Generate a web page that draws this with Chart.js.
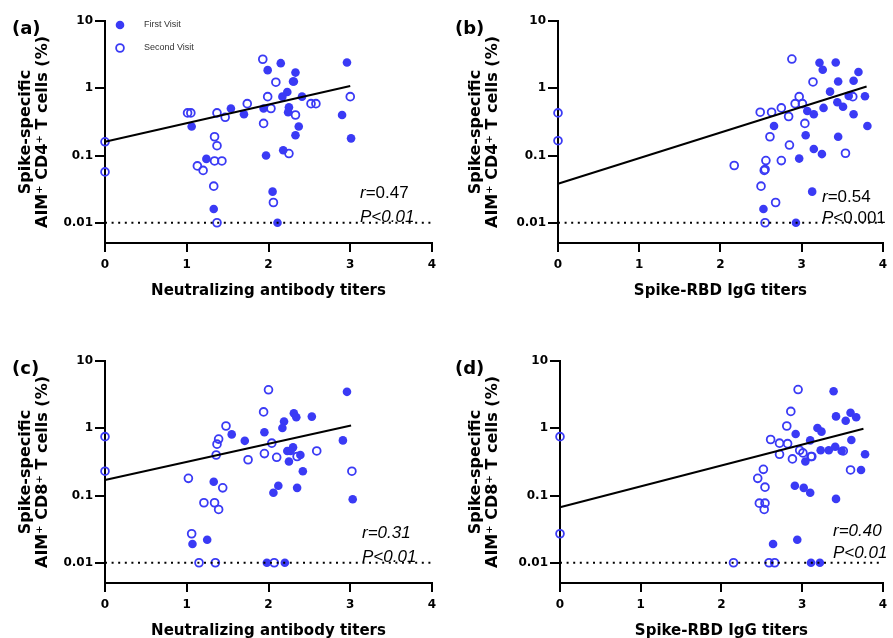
<!DOCTYPE html>
<html><head><meta charset="utf-8">
<script src="https://cdn.jsdelivr.net/npm/chart.js@4.4.1/dist/chart.umd.min.js"></script>
<style>
html,body{margin:0;padding:0;background:#fff;overflow:hidden;width:893px;height:638px;position:relative;}
canvas{position:absolute;}
</style></head><body>
<canvas id="cA" width="450" height="313" style="left:0;top:0"></canvas>
<canvas id="cB" width="443" height="313" style="left:450px;top:0"></canvas>
<canvas id="cC" width="450" height="313" style="left:0;top:340px"></canvas>
<canvas id="cD" width="443" height="313" style="left:450px;top:340px"></canvas>
<script>
// ---- data ----
const xTicks = [0, 1, 2, 3, 4];
const yTicks = [0.01, 0.1, 1, 10];
const detectionLimit = 0.01;
const seriesNames = ['First Visit', 'Second Visit'];

// (a) neutralizing titers vs CD4
const aFirstX  = [2.15,1.99,2.33,2.30,2.31,2.96,2.23,2.17,2.41,1.54,1.70,1.94,2.25,2.24,1.06,2.90,2.37,2.33,3.01,2.18,1.97,1.24,2.05,1.33,2.11];
const aFirstY  = [2.36,1.86,1.71,1.26,1.26,2.42,0.88,0.75,0.75,0.50,0.41,0.50,0.52,0.44,0.27,0.40,0.27,0.20,0.18,0.12,0.10,0.089,0.029,0.016,0.01];
const aSecondX = [0,0,1.01,1.05,1.37,1.47,1.74,1.93,2.09,1.99,2.03,1.94,2.33,2.25,2.52,2.58,3.00,1.34,1.37,1.34,1.43,1.13,1.20,1.33,2.06,1.37];
const aSecondY = [0.16,0.057,0.43,0.43,0.43,0.37,0.59,2.7,1.23,0.75,0.50,0.30,0.40,0.107,0.59,0.59,0.75,0.19,0.14,0.083,0.083,0.070,0.060,0.035,0.020,0.01];
const aFitX = [0, 3.0];
const aFitY = [0.16, 1.08];

// (b) RBD IgG vs CD4
const bFirstX  = [3.22,3.42,3.26,3.70,3.45,3.64,3.35,3.58,3.78,3.44,3.51,3.27,3.07,3.15,3.64,2.66,3.81,3.05,3.45,3.15,3.25,2.97,3.13,2.53,2.93];
const bFirstY  = [2.4,2.42,1.88,1.74,1.26,1.29,0.89,0.77,0.76,0.62,0.53,0.51,0.46,0.41,0.41,0.275,0.275,0.20,0.19,0.125,0.105,0.090,0.029,0.016,0.01];
const bSecondX = [0,0,2.88,3.14,2.97,2.92,3.01,2.49,2.63,2.75,2.84,3.04,2.61,2.85,3.54,3.63,2.17,2.56,2.55,2.54,2.75,2.50,2.68,2.55];
const bSecondY = [0.43,0.166,2.72,1.24,0.75,0.59,0.59,0.44,0.44,0.51,0.38,0.30,0.19,0.143,0.108,0.75,0.071,0.084,0.062,0.060,0.084,0.035,0.020,0.01];
const bFitX = [0, 3.80];
const bFitY = [0.038, 1.06];

// (c) neutralizing titers vs CD8
const cFirstX  = [2.96,2.31,2.34,2.53,2.19,2.17,1.95,1.55,1.71,2.91,2.30,2.23,2.27,2.25,2.39,2.42,1.33,2.12,2.06,2.35,3.03,1.25,1.07,1.98,2.20];
const cFirstY  = [3.48,1.67,1.46,1.49,1.26,1.01,0.87,0.81,0.65,0.66,0.52,0.46,0.46,0.32,0.40,0.23,0.16,0.14,0.11,0.13,0.088,0.022,0.019,0.01,0.01];
const cSecondX = [0,0,2.00,1.94,1.48,1.39,1.37,1.36,1.75,2.04,1.95,2.10,2.35,2.59,3.02,1.02,1.44,1.21,1.34,1.39,1.06,1.15,1.35,2.07];
const cSecondY = [0.75,0.23,3.73,1.75,1.08,0.69,0.58,0.40,0.34,0.60,0.42,0.37,0.38,0.46,0.23,0.18,0.13,0.078,0.078,0.062,0.027,0.01,0.01,0.01];
const cFitX = [0, 3.01];
const cFitY = [0.17, 1.10];

// (d) RBD IgG vs CD8
const dFirstX  = [3.39,3.42,3.60,3.67,3.54,3.19,3.24,2.92,3.10,3.61,3.23,3.33,3.41,3.49,3.04,3.78,3.73,2.91,3.02,3.10,3.42,2.94,2.64,3.11,3.22];
const dFirstY  = [3.55,1.50,1.70,1.46,1.29,1.01,0.89,0.82,0.66,0.67,0.47,0.47,0.53,0.46,0.32,0.41,0.24,0.14,0.13,0.11,0.089,0.022,0.019,0.01,0.01];
const dSecondX = [0,0,2.95,2.86,2.81,2.61,2.72,2.82,2.72,2.88,2.97,3.01,3.11,3.12,3.51,3.60,2.52,2.45,2.54,2.47,2.54,2.53,2.15,2.59,2.66];
const dSecondY = [0.75,0.027,3.76,1.78,1.08,0.68,0.60,0.59,0.41,0.35,0.47,0.43,0.38,0.38,0.46,0.24,0.245,0.18,0.133,0.077,0.077,0.062,0.01,0.01,0.01];
const dFitX = [0, 3.76];
const dFitY = [0.067, 0.98];

const panelLabels = ['(a)', '(b)', '(c)', '(d)'];
const xTitles = ['Neutralizing antibody titers', 'Spike-RBD IgG titers', 'Neutralizing antibody titers', 'Spike-RBD IgG titers'];
const yTitles = [
  ['Spike-specific', 'AIM\u207A CD4\u207A T cells (%)'],
  ['Spike-specific', 'AIM\u207A CD4\u207A T cells (%)'],
  ['Spike-specific', 'AIM\u207A CD8\u207A T cells (%)'],
  ['Spike-specific', 'AIM\u207A CD8\u207A T cells (%)']
];
const rTexts = ['=0.47', '=0.54', '=0.31', '=0.40'];
const pTexts = ['<0.01', '<0.001', '<0.01', '<0.01'];

// ---- styling ----
const BLUE = 'rgb(58,58,245)';
Chart.defaults.font.family = "'DejaVu Sans', sans-serif";
Chart.defaults.color = '#000';

const pts = (xs, ys) => xs.map((x, i) => ({x: x, y: ys[i]}));

const decor = {
  id: 'decor',
  afterDraw(chart, args, o) {
    const ctx = chart.ctx, ca = chart.chartArea;
    ctx.save();
    ctx.fillStyle = '#000';
    ctx.textBaseline = 'middle';
    ctx.textAlign = 'left';
    ctx.font = "bold 18px 'DejaVu Sans'";
    ctx.fillText(o.label, o.labelX, 29);
    if (o.legend) {
      ctx.font = "9px 'Liberation Sans'";
      ctx.fillStyle = '#333';
      ctx.fillText(seriesNames[0], ca.left + 39, ca.top + 4);
      ctx.fillText(seriesNames[1], ca.left + 39, ca.top + 27);
      ctx.fillStyle = BLUE;
      ctx.beginPath(); ctx.arc(ca.left + 15, ca.top + 4, 4.3, 0, Math.PI * 2); ctx.fill();
      ctx.strokeStyle = BLUE; ctx.lineWidth = 1.8;
      ctx.beginPath(); ctx.arc(ca.left + 15, ca.top + 27, 3.9, 0, Math.PI * 2); ctx.stroke();
    }
    // stats
    const draw = (parts, x, y) => {
      let cx = x;
      parts.forEach(p => {
        ctx.font = (p[1] ? 'italic ' : '') + "17px 'Liberation Sans'";
        ctx.fillStyle = '#000';
        ctx.fillText(p[0], cx, y);
        cx += ctx.measureText(p[0]).width;
      });
    };
    draw([['r', true], [o.rText, o.rItalic]], ca.left + o.sx, ca.top + o.sy1);
    draw([['P', true], [o.pText, o.pItalic]], ca.left + o.sx, ca.top + o.sy2);
    ctx.restore();
  }
};

function makeChart(id, idx, first, second, fit, opt) {
  const axisFont = {size: 12, weight: 'bold'};
  return new Chart(document.getElementById(id), {
    type: 'scatter',
    data: {
      datasets: [
        {type: 'line', label: 'fit', data: fit, borderColor: '#000', borderWidth: 2, pointRadius: 0, fill: false, clip: false},
        {type: 'line', label: 'limit', data: [{x: xTicks[0], y: detectionLimit}, {x: xTicks[xTicks.length - 1], y: detectionLimit}],
          borderColor: '#000', borderWidth: 2, borderDash: [2, 4.6], pointRadius: 0, fill: false, clip: false},
        {label: seriesNames[0], data: first, backgroundColor: BLUE, borderColor: BLUE, borderWidth: 0, pointRadius: 4.3, clip: false},
        {label: seriesNames[1], data: second, backgroundColor: 'rgba(255,255,255,0)', borderColor: BLUE, borderWidth: 1.8, pointRadius: 3.9, clip: false}
      ]
    },
    options: {
      responsive: false, animation: false, devicePixelRatio: 1,
      layout: {padding: {top: 21, left: 0, right: opt.rp, bottom: 0}},
      plugins: {
        legend: {display: false}, tooltip: {enabled: false},
        decor: {label: panelLabels[idx], labelX: opt.lx, legend: idx === 0, rText: rTexts[idx], pText: pTexts[idx],
          rItalic: opt.rItalic, pItalic: opt.pItalic, sx: opt.sx, sy1: opt.sy1, sy2: opt.sy2}
      },
      scales: {
        x: {
          type: 'linear', min: xTicks[0], max: xTicks[xTicks.length - 1],
          afterBuildTicks: s => { s.ticks = xTicks.map(v => ({value: v})); },
          afterFit: s => { s.height = 70; },
          ticks: {color: '#000', font: axisFont, padding: 6, maxRotation: 0},
          grid: {drawOnChartArea: false, drawTicks: true, tickLength: 9, color: '#000', lineWidth: 2},
          border: {color: '#000', width: 2},
          title: {display: true, text: xTitles[idx], color: '#000', font: {size: 15, weight: 'bold', lineHeight: 1.2}, padding: {top: 0, bottom: 13}}
        },
        y: {
          type: 'logarithmic', min: 0.005, max: yTicks[yTicks.length - 1],
          afterBuildTicks: s => { s.ticks = yTicks.map(v => ({value: v})); },
          afterFit: s => { s.width = opt.yw; },
          ticks: {color: '#000', font: axisFont, padding: 2, autoSkip: false, callback: v => String(v)},
          grid: {drawOnChartArea: false, drawTicks: true, tickLength: 10, color: '#000', lineWidth: 2},
          border: {color: '#000', width: 2},
          title: {display: true, text: yTitles[idx], color: '#000', font: {size: 16, weight: 'bold', lineHeight: 1.08}, padding: {top: 17, bottom: 0}}
        }
      }
    },
    plugins: [decor]
  });
}

makeChart('cA', 0, pts(aFirstX, aFirstY), pts(aSecondX, aSecondY), pts(aFitX, aFitY),
  {rp: 18, yw: 105, lx: 12, sx: 255, sy1: 172, sy2: 196, rItalic: false, pItalic: true});
makeChart('cB', 1, pts(bFirstX, bFirstY), pts(bSecondX, bSecondY), pts(bFitX, bFitY),
  {rp: 8, yw: 108, lx: 5, sx: 264, sy1: 176, sy2: 197, rItalic: false, pItalic: false});
makeChart('cC', 2, pts(cFirstX, cFirstY), pts(cSecondX, cSecondY), pts(cFitX, cFitY),
  {rp: 18, yw: 105, lx: 12, sx: 257, sy1: 172, sy2: 196, rItalic: true, pItalic: true});
makeChart('cD', 3, pts(dFirstX, dFirstY), pts(dSecondX, dSecondY), pts(dFitX, dFitY),
  {rp: 8, yw: 110, lx: 5, sx: 273, sy1: 170, sy2: 192, rItalic: true, pItalic: true});
</script>
</body></html>
